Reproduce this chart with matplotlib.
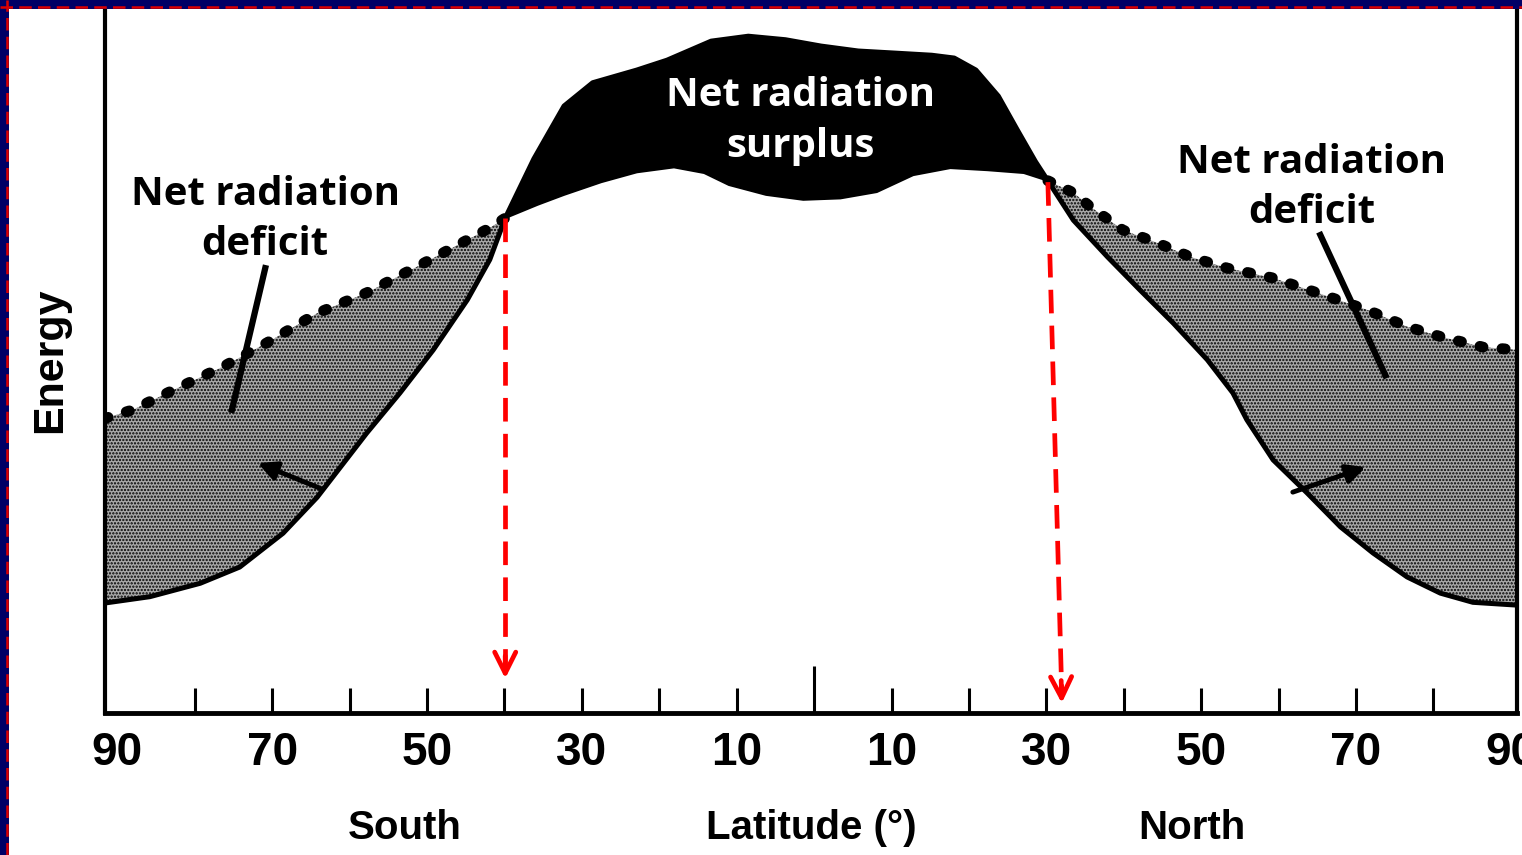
import numpy as np
import matplotlib
matplotlib.use('Agg')
import matplotlib.pyplot as plt
from matplotlib.patches import Rectangle

# Latitude in degrees (negative = South), energy in arbitrary units (0-100)
lat_in = [-91.6, -85.8, -79.3, -74.2, -68.6, -64.2, -57.8, -53.5, -49.2, -44.8,
          -41.9, -39.9, -36.2, -32.3, -28.6, -22.9, -19.0, -13.3, -8.5, -3.7,
          0.9, 5.7, 10.5, 15.2, 18.1, 20.9, 23.8, 26.2, 28.6, 30.2,
          33.5, 37.9, 42.1, 46.4, 50.8, 54.1, 55.9, 59.3, 63.7, 68.0,
          72.2, 76.6, 80.9, 85.1, 90.8]
energy_in = [15.6, 16.5, 18.4, 20.7, 25.5, 30.6, 39.7, 45.4, 51.5, 58.6,
             64.3, 70.2, 78.6, 86.1, 89.4, 91.2, 92.6, 95.3, 96.0, 95.5,
             94.6, 93.9, 93.6, 93.3, 92.9, 91.2, 87.5, 82.8, 78.2, 75.5,
             69.9, 64.7, 60.0, 55.3, 50.1, 45.4, 41.6, 35.9, 31.2, 26.4,
             22.7, 19.3, 17.0, 15.7, 15.3]

lat_out = [-91.6, -88.0, -82.8, -76.4, -70.7, -64.2, -57.8, -51.3, -44.8, -41.9,
           -39.9, -35.7, -32.3, -27.5, -22.9, -18.1, -14.2, -11.0, -6.2, -1.4,
           3.4, 8.1, 12.8, 17.6, 22.4, 27.1, 30.2, 33.5, 35.7, 39.9,
           44.3, 48.6, 53.4, 59.3, 65.0, 71.4, 76.6, 80.9, 86.4, 90.8]
energy_out = [41.8, 43.0, 45.8, 49.1, 52.5, 56.7, 59.6, 63.3, 67.1, 68.8,
              70.2, 72.1, 73.5, 75.3, 76.7, 77.4, 76.6, 74.9, 73.5, 72.8,
              73.0, 73.9, 76.3, 77.3, 77.0, 76.6, 75.5, 73.8, 71.8, 68.5,
              66.7, 64.7, 63.1, 61.7, 59.6, 57.2, 54.8, 53.4, 51.9, 51.5]

crossings = [-39.9, 30.2]
arrow_tips = [(-39.9, 4.5), (32.0, 1.0)]
arrow_tails = [(-39.9, 70.2), (30.2, 75.3)]

tick_lats = list(range(-90, 91, 10))
tick_names = ['90', '', '70', '', '50', '', '30', '', '10', '',
              '10', '', '30', '', '50', '', '70', '', '90']

lat_in = np.array(lat_in); energy_in = np.array(energy_in)
lat_out = np.array(lat_out); energy_out = np.array(energy_out)

fig = plt.figure(figsize=(15.22, 8.55), dpi=100, facecolor='white')
ax = fig.add_axes([105/1522, (855-713)/855, (1517-105)/1522, (713-8)/855])
ax.set_xlim(-91.6, 90.8)
ax.set_ylim(0, 100)

plt.rcParams['hatch.linewidth'] = 1.1

# deficit areas (stippled)
lo, hi = crossings
for sel_o, sel_i in [(lat_out <= lo, lat_in <= lo), (lat_out >= hi, lat_in >= hi)]:
    xs = np.concatenate([lat_out[sel_o], lat_in[sel_i][::-1]])
    ys = np.concatenate([energy_out[sel_o], energy_in[sel_i][::-1]])
    ax.fill(xs, ys, facecolor='#a9a9a9', edgecolor='black', hatch='.....', lw=0, zorder=1)

# surplus area (black)
so = (lat_out >= lo) & (lat_out <= hi)
si = (lat_in >= lo) & (lat_in <= hi)
xs = np.concatenate([lat_out[so], lat_in[si][::-1]])
ys = np.concatenate([energy_out[so], energy_in[si][::-1]])
ax.fill(xs, ys, color='black', lw=1.5, zorder=2)

# incoming (solid) and outgoing (dotted) curves
ax.plot(lat_in, energy_in, color='black', lw=3.6, zorder=3,
        solid_capstyle='round', solid_joinstyle='round')
for sel in [lat_out <= lo, lat_out >= hi]:
    ax.plot(lat_out[sel], energy_out[sel], color='black', lw=7.8,
            linestyle=(0, (0.3, 1.75)), dash_capstyle='round', zorder=3)

# small arrows inside the deficit areas
ax.annotate('', xy=(-72.2, 35.6), xytext=(-63.2, 31.6),
            arrowprops=dict(arrowstyle='-|>', color='black', lw=3.5, mutation_scale=28), zorder=4)
ax.annotate('', xy=(71.6, 35.0), xytext=(61.5, 31.2),
            arrowprops=dict(arrowstyle='-|>', color='black', lw=3.5, mutation_scale=28), zorder=4)

# pointer lines to labels
ax.plot([-70.9, -75.2], [63.1, 43.0], color='black', lw=4.5, zorder=4)
ax.plot([65.4, 73.8], [67.8, 47.9], color='black', lw=4.5, zorder=4)

# red dashed arrows at the crossing latitudes
for (x0, y0), (x1, y1) in zip(arrow_tails, arrow_tips):
    ax.plot([x0, x1], [y0, y1 + 1.5], color='red', lw=3.4, linestyle=(0, (5, 2.6)), zorder=5)
    ax.annotate('', xy=(x1, y1), xytext=(x1 - (x1 - x0) * 0.05, y1 + 4),
                arrowprops=dict(arrowstyle='->', color='red', lw=3.4, mutation_scale=38), zorder=5)

tfont = dict(family=['Open Sans', 'DejaVu Sans'], fontweight='bold', fontsize=29,
             ha='center', va='center', linespacing=1.38)
ax.text(-1.8, 84.0, 'Net radiation\nsurplus', color='white', zorder=6, **tfont)
ax.text(-70.9, 70.0, 'Net radiation\ndeficit', color='black', zorder=6, **tfont)
ax.text(64.3, 74.5, 'Net radiation\ndeficit', color='black', zorder=6, **tfont)

# axes styling
ax.spines['top'].set_visible(False)
ax.spines['bottom'].set_linewidth(3.5)
ax.spines['left'].set_linewidth(3.0)
ax.spines['right'].set_linewidth(3.0)
ax.set_yticks([])
ax.set_xticks(tick_lats)
ax.set_xticklabels(tick_names, family='Liberation Sans', fontweight='bold', fontsize=33)
ax.tick_params(axis='x', direction='in', length=18, width=2.2, pad=13, top=False)
for t, v in zip(ax.xaxis.get_major_ticks(), tick_lats):
    if abs(v) == 90:
        t.tick1line.set_visible(False)
    if v == 0:
        t.tick1line.set_markersize(34)

lab = dict(family='Liberation Sans', fontweight='bold', fontsize=29, ha='center', va='center')
fig.text(405/1522, 1 - 828/855, 'South', **lab)
fig.text(811/1522, 1 - 828/855, 'Latitude (°)', **lab)
fig.text(1192/1522, 1 - 828/855, 'North', **lab)
fig.text(50/1522, 1 - 360/855, 'Energy', rotation=90, fontsize=31,
         **{k: v for k, v in lab.items() if k != 'fontsize'})

# slide frame (navy band with red dashes) on top and left edges
fig.patches.append(Rectangle((0, 1 - 9/855), 1, 9/855, transform=fig.transFigure,
                             facecolor='#000066', edgecolor='none', zorder=10))
fig.patches.append(Rectangle((0, 0), 9/1522, 1, transform=fig.transFigure,
                             facecolor='#000066', edgecolor='none', zorder=10))
fig.add_artist(plt.Line2D([0, 1], [1 - 7/855, 1 - 7/855], transform=fig.transFigure,
                          color='#dd0000', lw=1.8, linestyle=(0, (5, 2.5)), zorder=11))
fig.add_artist(plt.Line2D([7/1522, 7/1522], [0, 1], transform=fig.transFigure,
                          color='#dd0000', lw=1.8, linestyle=(0, (5, 2.5)), zorder=11))

fig.savefig('out.png', dpi=100, facecolor='white')
